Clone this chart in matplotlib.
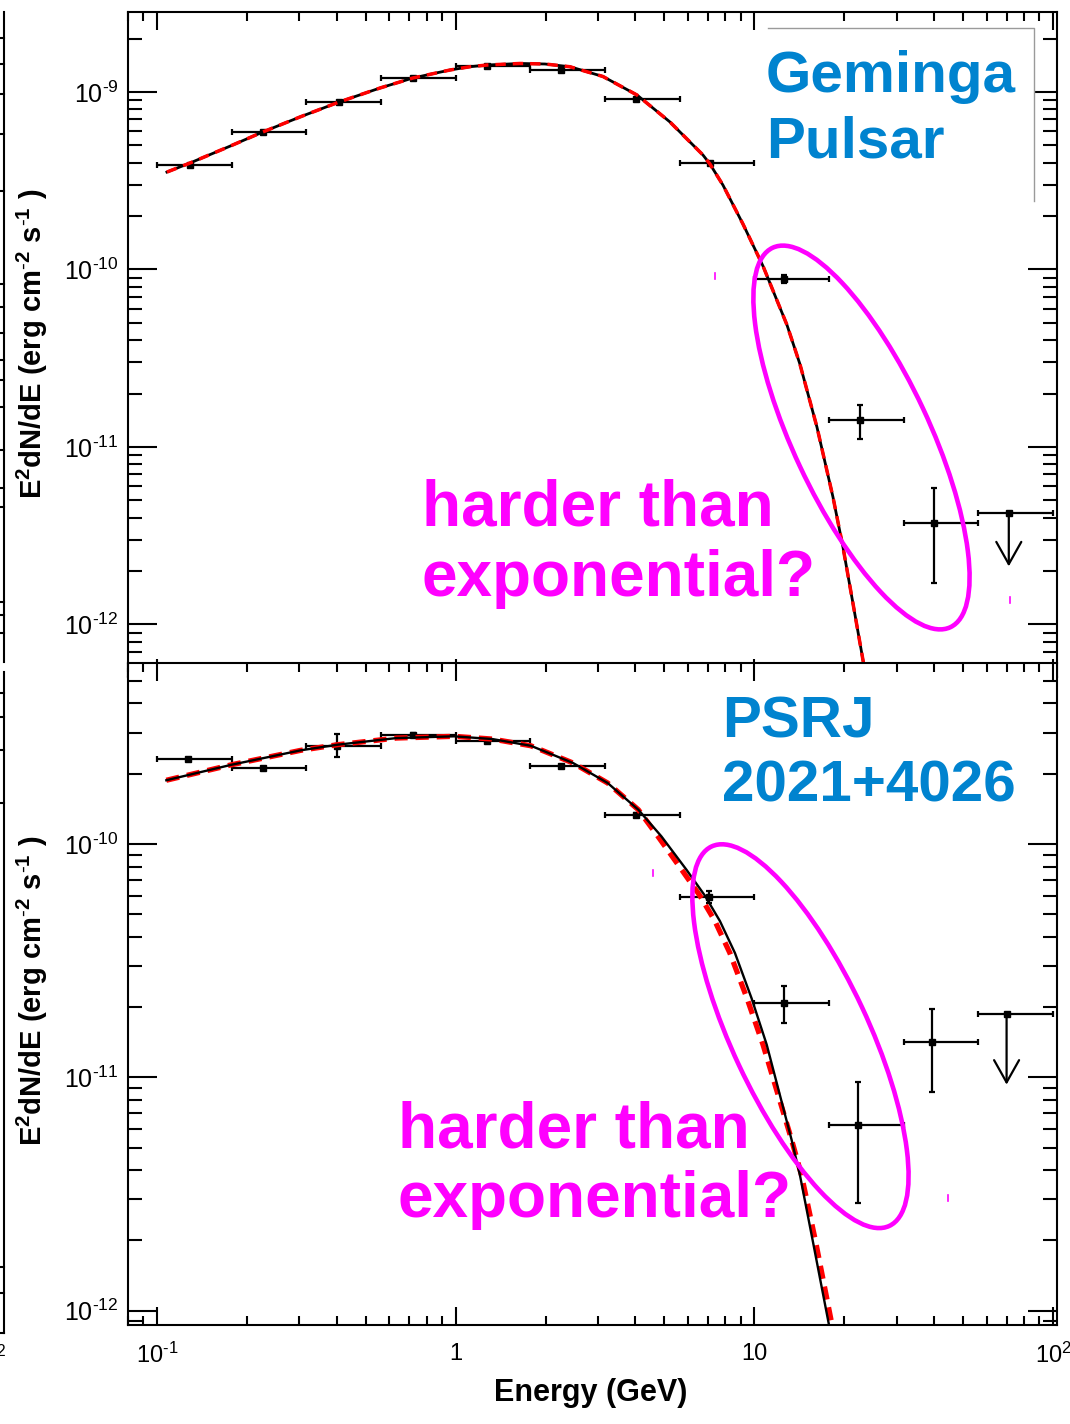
import numpy as np
import matplotlib
matplotlib.use("Agg")
import matplotlib.pyplot as plt
from matplotlib.patches import Ellipse, Rectangle
from matplotlib.lines import Line2D
from matplotlib.transforms import Affine2D, ScaledTranslation
from matplotlib.ticker import LogLocator, FuncFormatter, NullFormatter

plt.rcParams['font.family'] = ['Liberation Sans', 'DejaVu Sans']
plt.rcParams['mathtext.fontset'] = 'custom'
plt.rcParams['mathtext.rm'] = 'Liberation Sans'
plt.rcParams['mathtext.default'] = 'regular'

# energy bins (GeV), 4 per decade
bin_lo = [0.1, 0.178, 0.316, 0.562, 1.0, 1.78, 3.16, 5.62, 10.0, 17.8, 31.6, 56.2]
bin_hi = [0.178, 0.316, 0.562, 1.0, 1.78, 3.16, 5.62, 10.0, 17.8, 31.6, 56.2, 100.0]

# Geminga SED (erg cm^-2 s^-1), last bin is an upper limit
gem_E = [0.129, 0.227, 0.406, 0.720, 1.27, 2.26, 4.03, 7.10, 12.6, 22.6, 39.9, 71.1]
gem_F = [3.88e-10, 5.96e-10, 8.78e-10, 1.20e-9, 1.40e-9, 1.33e-9, 9.10e-10, 4.00e-10,
         8.83e-11, 1.42e-11, 3.73e-12, 4.25e-12]
gem_F_lo = [3.85e-10, 5.92e-10, 8.73e-10, 1.19e-9, 1.39e-9, 1.32e-9, 9.00e-10, 3.95e-10,
            8.39e-11, 1.11e-11, 1.71e-12, 4.25e-12]
gem_F_hi = [3.91e-10, 6.00e-10, 8.83e-10, 1.21e-9, 1.41e-9, 1.34e-9, 9.20e-10, 4.05e-10,
            9.31e-11, 1.73e-11, 5.87e-12, 4.25e-12]
gem_ul = [False] * 11 + [True]

# Geminga fitted spectrum
gem_fit_E = [0.108, 0.129, 0.176, 0.226, 0.301, 0.407, 0.558, 0.719, 0.957, 1.117,
             1.273, 1.642, 1.991, 2.414, 3.112, 4.046, 5.217, 6.727, 7.10, 7.85, 9.16,
             10.69, 12.86, 14.21, 16.20, 18.33, 19.80, 21.38, 23.10, 24.38]
gem_fit_F = [3.54e-10, 3.98e-10, 4.96e-10, 5.95e-10, 7.23e-10, 8.78e-10, 1.053e-9, 1.199e-9,
             1.330e-9, 1.388e-9, 1.419e-9, 1.448e-9, 1.438e-9, 1.388e-9, 1.223e-9, 9.62e-10,
             6.78e-10, 4.42e-10, 3.93e-10, 2.99e-10, 1.804e-10, 1.046e-10, 4.87e-11, 2.93e-11,
             1.297e-11, 5.23e-12, 2.73e-12, 1.32e-12, 6.31e-13, 3.75e-13]

# PSR J2021+4026 SED
psr_E = [0.127, 0.227, 0.402, 0.718, 1.27, 2.26, 4.03, 7.06, 12.6, 22.3, 39.4, 69.9]
psr_F = [2.31e-10, 2.12e-10, 2.64e-10, 2.93e-10, 2.77e-10, 2.15e-10, 1.33e-10, 5.94e-11,
         2.08e-11, 6.25e-12, 1.42e-11, 1.86e-11]
psr_F_lo = [2.29e-10, 2.10e-10, 2.35e-10, 2.88e-10, 2.74e-10, 2.12e-10, 1.30e-10, 5.57e-11,
            1.71e-11, 2.90e-12, 8.68e-12, 1.86e-11]
psr_F_hi = [2.33e-10, 2.14e-10, 2.96e-10, 2.98e-10, 2.80e-10, 2.18e-10, 1.36e-10, 6.30e-11,
            2.47e-11, 9.57e-12, 1.96e-11, 1.86e-11]
psr_ul = [False] * 11 + [True]

# PSR J2021+4026 fits: solid and dashed models
psr_fit_E = [0.1075, 0.1777, 0.303, 0.402, 0.634, 0.989, 1.328, 1.785, 2.472, 3.228, 4.090,
             4.883, 5.935, 6.833, 7.67, 8.61, 9.79, 11.0, 13.33, 14.21, 15.69, 17.78, 18.76]
psr_fit_F = [1.874e-10, 2.184e-10, 2.518e-10, 2.661e-10, 2.842e-10, 2.891e-10, 2.814e-10,
             2.634e-10, 2.222e-10, 1.824e-10, 1.401e-10, 1.078e-10, 7.73e-11, 6.00e-11,
             4.67e-11, 3.41e-11, 2.18e-11, 1.38e-11, 5.39e-12, 3.81e-12, 1.99e-12,
             8.68e-13, 6.15e-13]
psr_fit2_E = [0.1075, 0.1777, 0.303, 0.402, 0.634, 0.989, 1.328, 1.785, 2.472, 3.228, 4.090,
              4.755, 5.72, 6.575, 7.38, 8.28, 9.45, 10.69, 13.33, 14.38, 16.02, 18.20, 19.2]
psr_fit2_F = psr_fit_F

BLUE = '#0083CF'
MAGENTA = '#FF00FF'

DPI = 100
W, H = 1070, 1424
fig = plt.figure(figsize=(W / DPI, H / DPI), dpi=DPI)
# image-pixel coordinates, y downward
px = Affine2D().scale(1 / DPI, -1 / DPI).translate(0, H / DPI) + fig.dpi_scale_trans


def box(x0, y0, x1, y1):
    return [x0 / W, 1 - y1 / H, (x1 - x0) / W, (y1 - y0) / H]


ax_top = fig.add_axes(box(128, 12, 1057, 677))
ax_bot = fig.add_axes(box(128, 663, 1057, 1325))
ax_bot.set_zorder(1)
ax_bot.patch.set_facecolor('white')


def pow_label(v, pos):
    n = int(round(np.log10(v)))
    return r'$10^{\text{-}%d}$' % -n if n < 0 else '$10^{%d}$' % n


def style_axes(ax, ylim):
    ax.set_xscale('log')
    ax.set_yscale('log')
    ax.set_xlim(0.08, 103.1)
    ax.set_ylim(*ylim)
    for axis in (ax.xaxis, ax.yaxis):
        axis.set_major_locator(LogLocator(10, numticks=30))
        axis.set_minor_locator(LogLocator(10, subs=np.arange(2, 10), numticks=30))
        axis.set_minor_formatter(NullFormatter())
    ax.tick_params(which='both', direction='in', top=True, right=True, width=1.5)
    ax.tick_params(axis='x', which='major', length=13, pad=13, labelsize=17)
    ax.tick_params(axis='x', which='minor', length=6.5)
    ax.tick_params(axis='y', which='major', length=21, pad=6.5, labelsize=18)
    ax.tick_params(axis='y', which='minor', length=10)
    ax.yaxis.set_major_formatter(FuncFormatter(pow_label))
    for s in ax.spines.values():
        s.set_linewidth(1.5)


def draw_points(ax, E, F, F_lo, F_hi, ul):
    E = np.array(E)
    F = np.array(F)
    xerr = [E - np.array(bin_lo), np.array(bin_hi) - E]
    yerr = [F - np.array(F_lo), np.array(F_hi) - F]
    det = ~np.array(ul)
    ax.errorbar(E[det], F[det], xerr=[xerr[0][det], xerr[1][det]],
                yerr=[yerr[0][det], yerr[1][det]], fmt='s', color='k', ms=4.8,
                elinewidth=1.6, capsize=2.5, capthick=1.6, zorder=3)
    for i in np.where(~det)[0]:
        ax.errorbar([E[i]], [F[i]], xerr=[[xerr[0][i]], [xerr[1][i]]], fmt='s', color='k',
                    ms=4.8, elinewidth=1.6, capsize=2.5, capthick=1.6, zorder=3)
        ax.annotate('', xy=(E[i], F[i] / 2), xytext=(E[i], F[i]),
                    arrowprops=dict(arrowstyle='->,head_length=0.8,head_width=0.45',
                                    color='k', lw=1.6, shrinkA=0, shrinkB=0,
                                    mutation_scale=20), zorder=3)


style_axes(ax_top, (5.06e-13, 2.823e-9))
ax_top.tick_params(labelbottom=False)
style_axes(ax_bot, (8.68e-13, 5.96e-10))
xlabels = {-1: r'$10^{\text{-}1}$', 0: '1', 1: '10', 2: '$10^{2}$'}
ax_bot.xaxis.set_major_formatter(FuncFormatter(lambda v, p: xlabels.get(round(np.log10(v)), '')))

# Geminga panel
draw_points(ax_top, gem_E, gem_F, gem_F_lo, gem_F_hi, gem_ul)
ax_top.plot(gem_fit_E, gem_fit_F, color='k', lw=2.0, zorder=4)
ax_top.plot(gem_fit_E, gem_fit_F, color='red', lw=2.5, dashes=(3.0, 2.0), zorder=5)

# PSR J2021+4026 panel
draw_points(ax_bot, psr_E, psr_F, psr_F_lo, psr_F_hi, psr_ul)
ax_bot.plot(psr_fit2_E, psr_fit2_F, color='red', lw=3.8, dashes=(2.5, 1.5), zorder=4)
ax_bot.plot(psr_fit_E, psr_fit_F, color='k', lw=1.7, zorder=5)

# axis titles
ylab = r'E$^{2}$dN/dE (erg cm$^{\text{-}2}$ s$^{\text{-}1}$ )'
for yc in (344, 991):
    fig.text(32, yc, ylab, transform=px, rotation=90, ha='center', va='center',
             fontsize=21, fontweight='bold')
fig.text(591, 1393, 'Energy (GeV)', transform=px, ha='center', va='center',
         fontsize=22, fontweight='bold')

# name box in the Geminga panel
fig.add_artist(Rectangle((768, 28), 266, 173, transform=px, facecolor='white',
                         edgecolor='none', zorder=5))
fig.add_artist(Line2D([768, 1034, 1034], [28, 28, 201], transform=px, color='#9a9a9a',
                      lw=1.0, zorder=5))

fig.text(766, 92, 'Geminga', transform=px, fontsize=42, fontweight='bold', color=BLUE,
         va='baseline', zorder=6)
fig.text(766, 157, 'Pulsar', transform=px, fontsize=42, fontweight='bold', color=BLUE,
         va='baseline', zorder=6)
fig.text(722, 738, 'PSRJ', transform=px, fontsize=42, fontweight='bold', color=BLUE,
         va='baseline', zorder=6)
fig.text(722, 802, '2021+4026', transform=px, fontsize=42, fontweight='bold', color=BLUE,
         va='baseline', zorder=6)

for x0, y0 in ((422, 526), (398, 1147)):
    fig.text(x0, y0, 'harder than', transform=px, fontsize=46, fontweight='bold',
             color=MAGENTA, va='baseline', zorder=6)
    fig.text(x0, y0 + 70, 'exponential?', transform=px, fontsize=46, fontweight='bold',
             color=MAGENTA, va='baseline', zorder=6)


# rings around the high-energy points, sized in inches, centred in data space
def ring(ax, E0, F0):
    tr = fig.dpi_scale_trans + ScaledTranslation(E0, F0, ax.transData)
    fig.add_artist(Ellipse((0, 0), 4.19, 1.36, angle=-64.9, transform=tr, fill=False,
                           ec=MAGENTA, lw=3.3, zorder=7))


ring(ax_top, 22.84, 1.131e-11)
ring(ax_bot, 14.27, 1.50e-11)

# small stray specks
for x, y in ((715, 276), (1010, 600), (653, 873), (948, 1198)):
    fig.add_artist(Line2D([x, x], [y - 3, y + 3], transform=px, color=MAGENTA, lw=1.2,
                          zorder=7))

# edge of the neighbouring panel on the far left
for y0, y1 in ((12, 662), (672, 1333)):
    fig.add_artist(Line2D([3.5, 3.5], [y0, y1], transform=px, color='k', lw=1.5, zorder=5))
for y in (38, 64, 94, 134, 191, 284, 307, 333, 360, 380, 407, 450, 488, 507, 602, 615, 633,
          693, 717, 750, 803, 1267, 1293, 1333):
    fig.add_artist(Line2D([0, 3.5], [y, y], transform=px, color='k', lw=1.5, zorder=5))
fig.text(7, 1357, '$10^{2}$', transform=px, ha='right', va='center', fontsize=16)

fig.savefig('out.png', dpi=DPI)
